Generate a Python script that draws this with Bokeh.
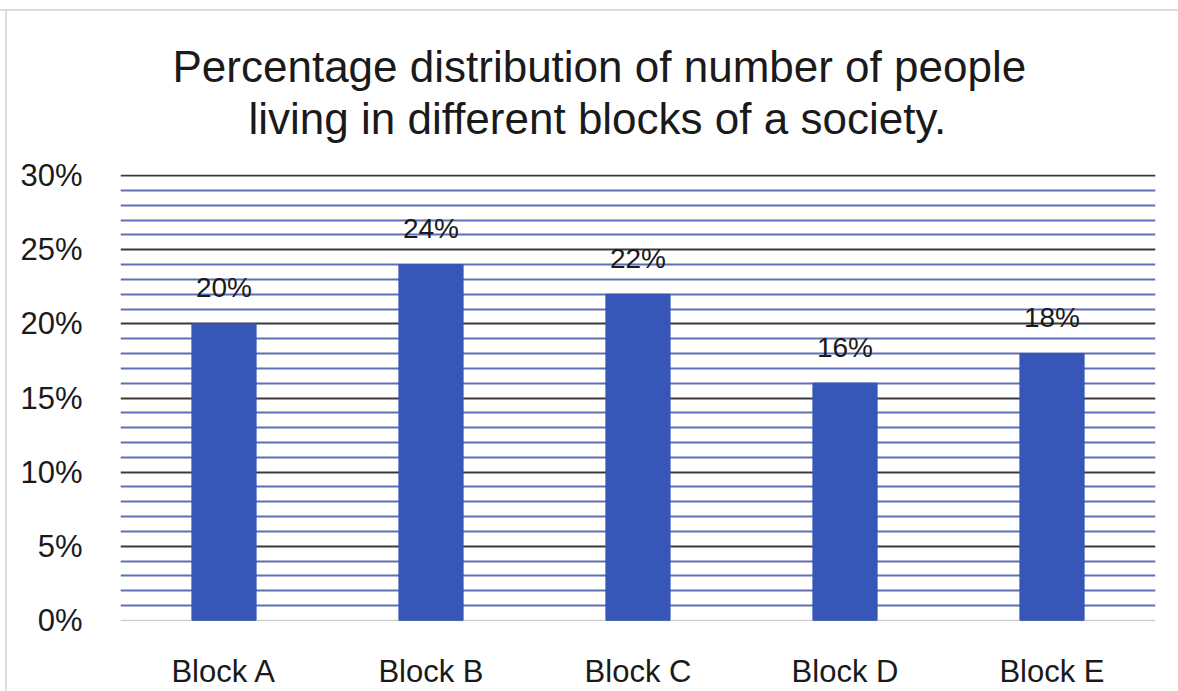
from bokeh.plotting import figure
from bokeh.models import (ColumnDataSource, Title, SingleIntervalTicker, FixedTicker,
                          PrintfTickFormatter, Grid, Range1d)
from bokeh.core.properties import value
from bokeh.embed import file_html
from bokeh.resources import INLINE

blocks = ["Block A", "Block B", "Block C", "Block D", "Block E"]
shares = [20, 24, 22, 16, 18]
labels = ["20%", "24%", "22%", "16%", "18%"]
title_lines = ["Percentage distribution of number of people",
               "living in different blocks of a society."]

FONT = "Liberation Sans"

src = ColumnDataSource(dict(block=blocks, share=shares, label=labels))

p = figure(width=1178, height=691, x_range=blocks, y_range=Range1d(-0.08, 30.08),
           output_backend="svg", toolbar_location=None,
           min_border_left=120, min_border_right=23, min_border_bottom=69,
           min_border_top=0)
p.title = None
p.outline_line_color = None
p.background_fill_color = "white"
p.border_fill_color = None
p.styles = {
    "background": "linear-gradient(#dcdcdc,#dcdcdc) 0 9px/100% 2px no-repeat, "
                  "linear-gradient(#dcdcdc,#dcdcdc) 5px 9px/2px 100% no-repeat, white"
}

def spacer(s):
    return Title(text=" ", text_font_size="20px", text_font=FONT, standoff=s)

# stacked from the frame outward
p.add_layout(spacer(7), "above")
p.add_layout(Title(text=title_lines[1], align="left", text_font_size="44px",
                   text_font=FONT, text_font_style="normal", text_color="#1a1a1a",
                   standoff=1, offset=128), "above")
p.add_layout(Title(text=title_lines[0], align="left", text_font_size="44px",
                   text_font=FONT, text_font_style="normal", text_color="#1a1a1a",
                   standoff=1, offset=52), "above")
p.add_layout(spacer(15), "above")

p.vbar(x="block", top="share", width=0.31, source=src, color="#3656b8")
p.text(x="block", y="share", text="label", source=src, text_align="center",
       text_baseline="alphabetic", y_offset=-36, text_font=value(FONT),
       text_font_size="28px", text_color="#1a1a1a")

# y axis
p.yaxis.ticker = SingleIntervalTicker(interval=5, num_minor_ticks=5)
p.yaxis.formatter = PrintfTickFormatter(format="%d%%")
p.yaxis.axis_line_color = None
p.yaxis.major_tick_line_color = None
p.yaxis.minor_tick_line_color = None
p.yaxis.major_label_standoff = 32
p.yaxis.major_label_text_font = FONT
p.yaxis.major_label_text_font_size = "31px"
p.yaxis.major_label_text_color = "#1a1a1a"

# x axis
p.xaxis.axis_line_color = None
p.xaxis.major_tick_line_color = None
p.xaxis.minor_tick_line_color = None
p.xaxis.major_label_standoff = 26
p.xaxis.major_label_text_font = FONT
p.xaxis.major_label_text_font_size = "31px"
p.xaxis.major_label_text_color = "#1a1a1a"

# grids
p.xgrid.grid_line_color = None
p.ygrid.ticker = FixedTicker(ticks=[5, 10, 15, 20, 25, 30],
                             minor_ticks=[i for i in range(1, 30) if i % 5 != 0])
p.ygrid.grid_line_color = "#3a3a3a"
p.ygrid.grid_line_width = 1.8
p.ygrid.minor_grid_line_color = "#5f6fb5"
p.ygrid.minor_grid_line_width = 1.8
p.add_layout(Grid(dimension=1, ticker=FixedTicker(ticks=[0]),
                  grid_line_color="#cfcfcf", grid_line_width=1.6))

open("out.html", "w").write(file_html(p, INLINE))
